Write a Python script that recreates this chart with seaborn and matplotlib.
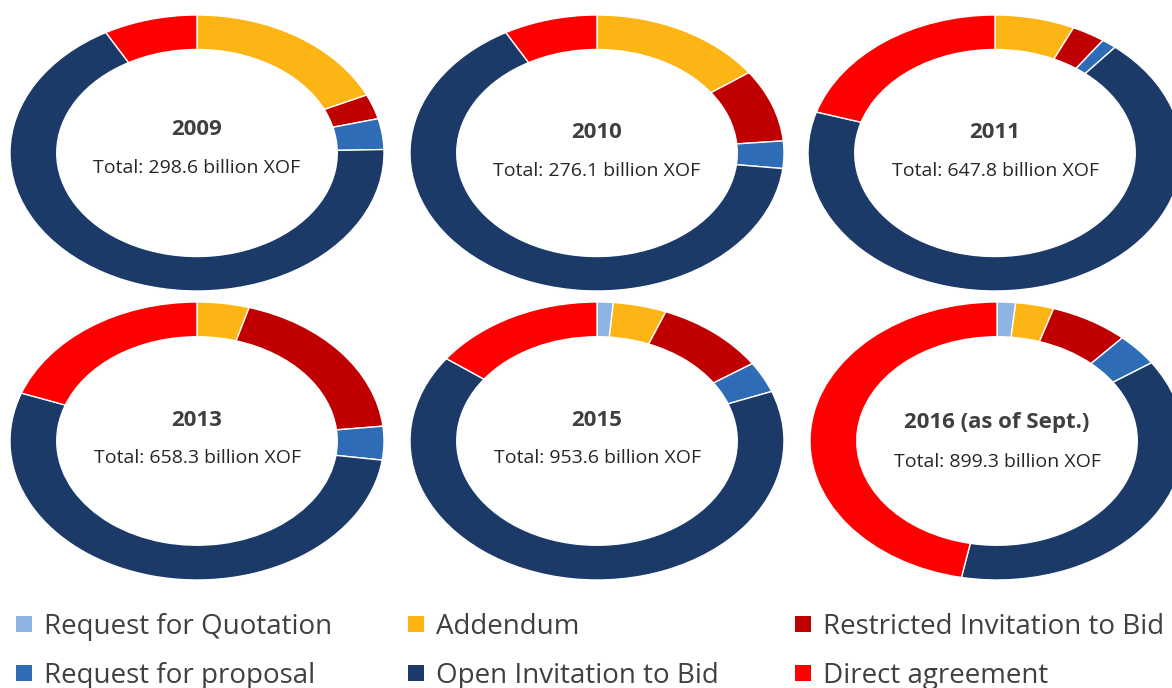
import numpy as np
import pandas as pd
import matplotlib
matplotlib.use("Agg")
import matplotlib.pyplot as plt
from matplotlib.patches import Patch
import seaborn as sns

# ---------------- data ----------------
categories = ["Request for Quotation", "Addendum", "Restricted Invitation to Bid",
              "Request for proposal", "Open Invitation to Bid", "Direct agreement"]
years = ["2009", "2010", "2011", "2013", "2015", "2016 (as of Sept.)"]
totals = ["298.6", "276.1", "647.8", "658.3", "953.6", "899.3"]

share_2009 = [0.0, 18.1, 2.9, 3.6, 67.3, 8.1]
share_2010 = [0.0, 15.1, 8.5, 3.2, 65.1, 8.1]
share_2011 = [0.0, 6.9, 2.9, 1.3, 68.7, 20.2]
share_2013 = [0.0, 4.5, 18.8, 3.9, 53.4, 19.4]
share_2015 = [1.4, 4.6, 9.6, 3.6, 65.9, 14.9]
share_2016 = [1.6, 3.3, 6.8, 3.8, 37.6, 47.0]
shares = [share_2009, share_2010, share_2011, share_2013, share_2015, share_2016]

colors = ["#8DB4E2", "#FDB515", "#C00000", "#2E6DB5", "#1B3A68", "#FF0000"]

# ---------------- style ----------------
sns.set_theme(style="white")
plt.rcParams["font.family"] = ["Open Sans", "DejaVu Sans"]

W, H = 1172, 688
fig = plt.figure(figsize=(W / 100, H / 100), dpi=100)
fig.patch.set_facecolor("white")

# layout (pixels): centers of each donut and its half-axes
centers_x = [197, 597, 995, 197, 597, 997]
rows_top = [15, 15, 15, 302, 302, 302]
rows_bot = [291, 291, 291, 580, 580, 580]
rx = 187
title_y = [0.17, 0.15, 0.15, 0.15, 0.15, 0.13]
total_y = [-0.11, -0.13, -0.13, -0.12, -0.12, -0.15]

for i, (yr, tot, vals) in enumerate(zip(years, totals, shares)):
    left = (centers_x[i] - rx) / W
    width = 2 * rx / W
    bottom = (H - rows_bot[i]) / H
    height = (rows_bot[i] - rows_top[i]) / H
    ax = fig.add_axes([left, bottom, width, height])
    df = pd.DataFrame({"category": categories, "value": vals})
    df = df[df["value"] > 0]
    cmap = dict(zip(categories, colors))
    ax.pie(df["value"], colors=[cmap[c] for c in df["category"]],
           startangle=90, counterclock=False, radius=1.0,
           wedgeprops=dict(width=0.25, edgecolor="white", linewidth=1.0))
    ax.set_aspect("auto")
    ax.set_xlim(-1, 1)
    ax.set_ylim(-1, 1)
    ax.axis("off")
    ax.text(0, title_y[i], yr, ha="center", va="center", fontsize=16,
            fontweight="bold", color="#3F3F3F")
    ax.text(0, total_y[i], f"Total: {tot} billion XOF", ha="center", va="center",
            fontsize=14, color="#262626")

# legend
handles = [Patch(facecolor=c, edgecolor="none") for c in colors]
order = [0, 3, 1, 4, 2, 5]
leg = fig.legend([handles[k] for k in order], [categories[k] for k in order],
                 ncol=3, loc="upper left", bbox_to_anchor=(16 / W, 1 - 613 / H),
                 frameon=False, fontsize=20, handlelength=0.58, handleheight=0.5,
                 handletextpad=0.42, columnspacing=2.75, labelspacing=0.74,
                 borderpad=0, borderaxespad=0)
for t in leg.get_texts():
    t.set_color("#404040")

fig.savefig("out.png", dpi=100, facecolor="white")
